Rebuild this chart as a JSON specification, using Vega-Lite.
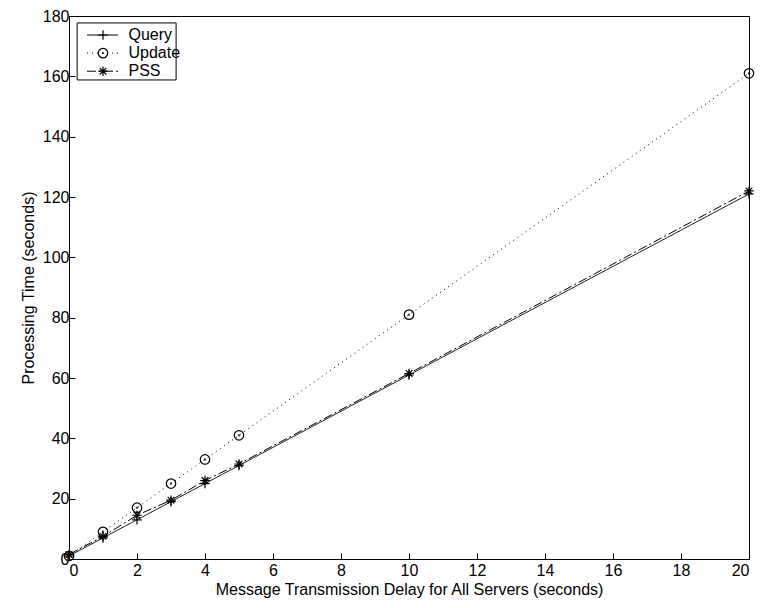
{
  "$schema": "https://vega.github.io/schema/vega-lite/v6.json",
  "width": 680,
  "height": 543,
  "autosize": "none",
  "padding": {"left": 69, "top": 16, "right": 12, "bottom": 49},
  "background": "white",
  "config": {
    "font": "Liberation Sans",
    "view": {"stroke": "black", "strokeWidth": 1},
    "axis": {"grid": false, "domainColor": "black", "tickColor": "black", "labelColor": "black", "titleColor": "black", "labelFontSize": 16, "titleFontSize": 16, "titleFontWeight": "normal", "tickSize": -6, "labelPadding": 6}
  },
  "datasets": {
    "series": [
      {"delay": 0, "time": 1, "series": "Query"},
      {"delay": 1, "time": 7, "series": "Query"},
      {"delay": 2, "time": 13, "series": "Query"},
      {"delay": 3, "time": 19, "series": "Query"},
      {"delay": 4, "time": 25, "series": "Query"},
      {"delay": 5, "time": 31, "series": "Query"},
      {"delay": 10, "time": 61, "series": "Query"},
      {"delay": 20, "time": 121, "series": "Query"},
      {"delay": 0, "time": 1, "series": "Update"},
      {"delay": 1, "time": 9, "series": "Update"},
      {"delay": 2, "time": 17, "series": "Update"},
      {"delay": 3, "time": 25, "series": "Update"},
      {"delay": 4, "time": 33, "series": "Update"},
      {"delay": 5, "time": 41, "series": "Update"},
      {"delay": 10, "time": 81, "series": "Update"},
      {"delay": 20, "time": 161, "series": "Update"},
      {"delay": 0, "time": 1.5, "series": "PSS"},
      {"delay": 1, "time": 7.5, "series": "PSS"},
      {"delay": 2, "time": 14.5, "series": "PSS"},
      {"delay": 3, "time": 19.5, "series": "PSS"},
      {"delay": 4, "time": 26, "series": "PSS"},
      {"delay": 5, "time": 31.5, "series": "PSS"},
      {"delay": 10, "time": 61.5, "series": "PSS"},
      {"delay": 20, "time": 122, "series": "PSS"}
    ],
    "legend": [
      {"series": "Query", "x1": 0.53, "x2": 1.44, "xm": 1.0, "xt": 1.75, "y": 173.7},
      {"series": "Update", "x1": 0.53, "x2": 1.44, "xm": 1.0, "xt": 1.75, "y": 167.7},
      {"series": "PSS", "x1": 0.53, "x2": 1.44, "xm": 1.0, "xt": 1.75, "y": 161.7}
    ],
    "box": [{"x1": 0.24, "x2": 3.15, "y1": 158.8, "y2": 177.7}]
  },
  "layer": [
    {
      "data": {"name": "series"},
      "mark": {"type": "line", "color": "black", "strokeWidth": 1},
      "encoding": {
        "x": {"field": "delay", "type": "quantitative", "scale": {"domain": [0, 20]}, "axis": {"values": [0,2,4,6,8,10,12,14,16,18,20], "title": "Message Transmission Delay for All Servers (seconds)", "labelPadding": 9, "titlePadding": 3}},
        "y": {"field": "time", "type": "quantitative", "scale": {"domain": [0, 180]}, "axis": {"values": [0,20,40,60,80,100,120,140,160,180], "title": "Processing Time (seconds)", "titlePadding": 6}},
        "detail": {"field": "series"},
        "strokeDash": {"field": "series", "type": "nominal", "scale": {"domain": ["Query", "Update", "PSS"], "range": [[1, 0], [1, 4], [9, 3, 2, 3]]}, "legend": null}
      }
    },
    {
      "data": {"name": "series"},
      "mark": {"type": "point", "filled": false, "color": "black", "strokeWidth": 1.2, "size": 90, "opacity": 1},
      "encoding": {
        "x": {"field": "delay", "type": "quantitative"},
        "y": {"field": "time", "type": "quantitative"},
        "shape": {"field": "series", "type": "nominal", "scale": {"domain": ["Query", "Update", "PSS"], "range": ["M-1,0L1,0M0,-1L0,1", "circle", "M-1,0L1,0M0,-1L0,1M-0.7,-0.7L0.7,0.7M-0.7,0.7L0.7,-0.7"]}, "legend": null}
      }
    },
    {
      "data": {"name": "series"},
      "transform": [{"filter": "datum.series == 'Update'"}],
      "mark": {"type": "point", "filled": true, "color": "black", "size": 6, "shape": "circle"},
      "encoding": {
        "x": {"field": "delay", "type": "quantitative"},
        "y": {"field": "time", "type": "quantitative"}
      }
    },
    {
      "data": {"name": "box"},
      "mark": {"type": "rect", "fill": "white", "stroke": "black", "strokeWidth": 1},
      "encoding": {
        "x": {"field": "x1", "type": "quantitative"},
        "x2": {"field": "x2"},
        "y": {"field": "y1", "type": "quantitative"},
        "y2": {"field": "y2"}
      }
    },
    {
      "data": {"name": "legend"},
      "mark": {"type": "rule", "color": "black", "strokeWidth": 1},
      "encoding": {
        "x": {"field": "x1", "type": "quantitative"},
        "x2": {"field": "x2"},
        "y": {"field": "y", "type": "quantitative"},
        "strokeDash": {"field": "series", "type": "nominal", "scale": {"domain": ["Query", "Update", "PSS"], "range": [[1, 0], [1, 4], [9, 3, 2, 3]]}, "legend": null}
      }
    },
    {
      "data": {"name": "legend"},
      "mark": {"type": "point", "filled": false, "color": "black", "strokeWidth": 1.2, "size": 90, "opacity": 1},
      "encoding": {
        "x": {"field": "xm", "type": "quantitative"},
        "y": {"field": "y", "type": "quantitative"},
        "shape": {"field": "series", "type": "nominal", "scale": {"domain": ["Query", "Update", "PSS"], "range": ["M-1,0L1,0M0,-1L0,1", "circle", "M-1,0L1,0M0,-1L0,1M-0.7,-0.7L0.7,0.7M-0.7,0.7L0.7,-0.7"]}, "legend": null}
      }
    },
    {
      "data": {"name": "legend"},
      "transform": [{"filter": "datum.series == 'Update'"}],
      "mark": {"type": "point", "filled": true, "color": "black", "size": 6, "shape": "circle"},
      "encoding": {
        "x": {"field": "xm", "type": "quantitative"},
        "y": {"field": "y", "type": "quantitative"}
      }
    },
    {
      "data": {"name": "legend"},
      "mark": {"type": "text", "align": "left", "baseline": "middle", "fontSize": 16, "color": "black"},
      "encoding": {
        "x": {"field": "xt", "type": "quantitative"},
        "y": {"field": "y", "type": "quantitative"},
        "text": {"field": "series"}
      }
    }
  ]
}
